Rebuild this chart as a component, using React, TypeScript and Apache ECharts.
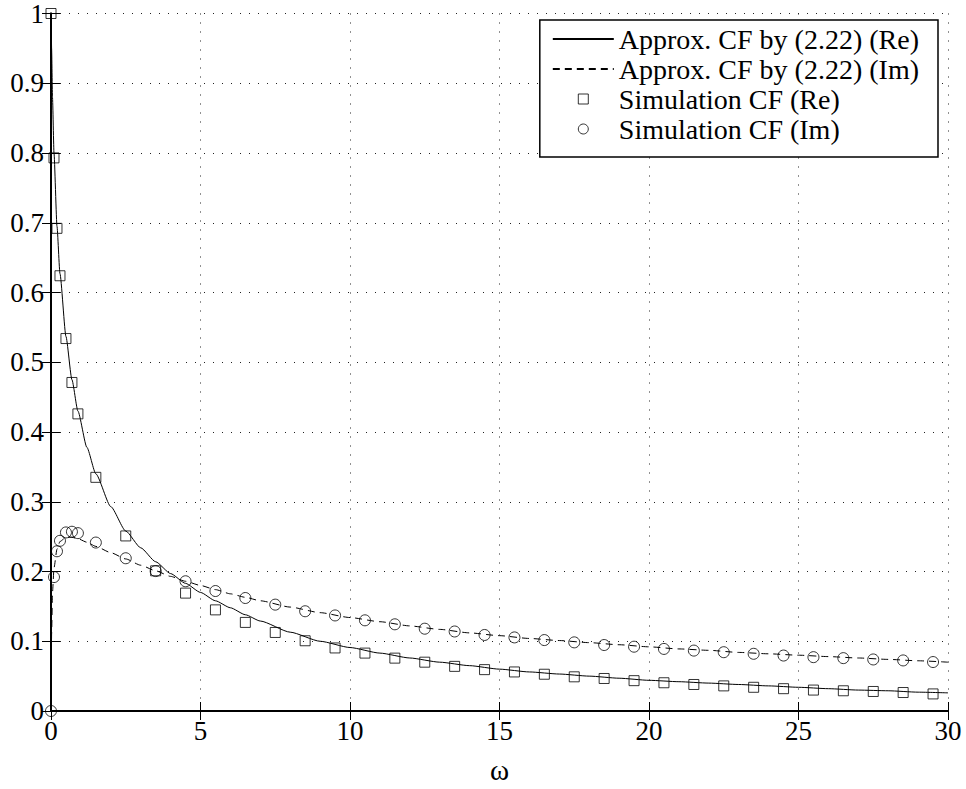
import React, { useEffect, useRef } from "react";
import * as echarts from "echarts";

// Simulation points (omega, Re, Im)
const simX = [0, 0.1, 0.2, 0.3, 0.5, 0.7, 0.9, 1.5, 2.5, 3.5, 4.5, 5.5, 6.5, 7.5, 8.5, 9.5, 10.5, 11.5, 12.5, 13.5, 14.5, 15.5, 16.5, 17.5, 18.5, 19.5, 20.5, 21.5, 22.5, 23.5, 24.5, 25.5, 26.5, 27.5, 28.5, 29.5];
const simRe = [1.0, 0.793, 0.692, 0.624, 0.534, 0.471, 0.426, 0.335, 0.251, 0.201, 0.169, 0.145, 0.127, 0.1126, 0.1007, 0.0904, 0.083, 0.0758, 0.07, 0.064, 0.0593, 0.056, 0.0527, 0.049, 0.0466, 0.0435, 0.0405, 0.038, 0.036, 0.034, 0.032, 0.03, 0.029, 0.028, 0.0265, 0.0245];
const simIm = [0, 0.192, 0.229, 0.244, 0.256, 0.257, 0.255, 0.2415, 0.219, 0.2006, 0.186, 0.172, 0.162, 0.1525, 0.143, 0.137, 0.13, 0.1243, 0.118, 0.114, 0.109, 0.1055, 0.1017, 0.0984, 0.0946, 0.0922, 0.089, 0.0866, 0.0843, 0.082, 0.0795, 0.0772, 0.0758, 0.0739, 0.0725, 0.0702];

// Approximation curves
const apxX = [0, 0.01, 0.02, 0.05, 0.1, 0.2, 0.3, 0.5, 0.7, 0.9, 1.2, 1.5, 2, 2.5, 3, 3.5, 4, 4.5, 5, 5.5, 6, 6.5, 7, 8, 9, 10, 11, 12, 13, 14, 15, 16, 17, 18, 19, 20, 21, 22, 23, 24, 25, 26, 27, 28, 29, 30];
const apxRe = [1.0, 0.975, 0.95, 0.88, 0.8, 0.695, 0.627, 0.537, 0.475, 0.43, 0.378, 0.34, 0.293, 0.258, 0.234, 0.214, 0.197, 0.183, 0.17, 0.158, 0.148, 0.138, 0.129, 0.113, 0.1, 0.091, 0.083, 0.076, 0.07, 0.065, 0.06, 0.056, 0.053, 0.05, 0.047, 0.044, 0.042, 0.04, 0.038, 0.036, 0.034, 0.032, 0.03, 0.029, 0.027, 0.026];
const apxIm = [0, 0.06, 0.11, 0.17, 0.205, 0.232, 0.243, 0.249, 0.249, 0.247, 0.242, 0.236, 0.227, 0.218, 0.209, 0.201, 0.193, 0.186, 0.18, 0.174, 0.168, 0.163, 0.158, 0.149, 0.141, 0.134, 0.128, 0.122, 0.117, 0.112, 0.108, 0.104, 0.101, 0.098, 0.095, 0.092, 0.089, 0.087, 0.084, 0.082, 0.08, 0.078, 0.076, 0.074, 0.072, 0.07];

const seriesNames = [
  "Approx. CF by (2.22) (Re)",
  "Approx. CF by (2.22) (Im)",
  "Simulation CF (Re)",
  "Simulation CF (Im)",
];

const FONT = "Liberation Serif";

export default function App() {
  const ref = useRef<HTMLDivElement>(null);
  useEffect(() => {
    if (!ref.current) return;
    const chart = echarts.init(ref.current, undefined, { renderer: "svg" });
    const zip = (xs: number[], ys: number[]) => xs.map((x, i) => [x, ys[i]]);
    const axisLine = { show: true, lineStyle: { color: "#000", width: 2 } };
    const tick = { show: true, inside: true, length: 9, lineStyle: { color: "#000", width: 1 } };
    const grid = { show: true, lineStyle: { color: "#222", width: 1, type: [1, 8] as any } };
    const hollow = { color: "rgba(0,0,0,0)", borderColor: "#000", borderWidth: 1 };
    const noSym = { color: "rgba(0,0,0,0)", borderColor: "rgba(0,0,0,0)", borderWidth: 0 };
    chart.setOption({
      animation: false,
      backgroundColor: "#fff",
      textStyle: { fontFamily: FONT },
      grid: { left: 51, right: 18, top: 10, bottom: 71 },
      xAxis: [
        {
          type: "value", min: 0, max: 30, interval: 5, position: "bottom",
          axisLine, axisTick: tick, splitLine: grid,
          axisLabel: { fontFamily: FONT, fontSize: 27, color: "#000", margin: 6 },
          name: "ω", nameLocation: "middle", nameGap: 44,
          nameTextStyle: { fontFamily: FONT, fontSize: 29, color: "#000" },
        },
        {
          type: "value", min: 0, max: 30, interval: 5, position: "top",
          axisLine, axisTick: tick, splitLine: { show: false }, axisLabel: { show: false },
        },
      ],
      yAxis: [
        {
          type: "value", min: 0, max: 1, interval: 0.1, position: "left",
          axisLine, axisTick: tick, splitLine: grid,
          axisLabel: {
            fontFamily: FONT, fontSize: 27, color: "#000", margin: 7,
            formatter: (v: number) => String(Math.round(v * 10) / 10),
          },
        },
        {
          type: "value", min: 0, max: 1, interval: 0.1, position: "right",
          axisLine, axisTick: tick, splitLine: { show: false }, axisLabel: { show: false },
        },
      ],
      legend: {
        orient: "vertical", right: 28, top: 20,
        backgroundColor: "#fff", borderColor: "#000", borderWidth: 1.5, borderRadius: 0,
        padding: [5, 19, 14, 12],
        itemWidth: 61, itemHeight: 10, itemGap: 2,
        symbolKeepAspect: true,
        textStyle: { fontFamily: FONT, fontSize: 28, color: "#000", lineHeight: 27 },
        data: [
          { name: seriesNames[0], itemStyle: noSym },
          { name: seriesNames[1], itemStyle: noSym },
          { name: seriesNames[2], icon: "path://M0,0L10,0L10,10L0,10Z", itemStyle: hollow },
          { name: seriesNames[3], icon: "circle", itemStyle: hollow },
        ],
      },
      series: [
        {
          name: seriesNames[0], type: "line", data: zip(apxX, apxRe), symbol: "none",
          smooth: 0.2, smoothMonotone: "x",
          lineStyle: { color: "#000", width: 1 }, itemStyle: { color: "#000" },
        },
        {
          name: seriesNames[1], type: "line", data: zip(apxX, apxIm), symbol: "none",
          smooth: 0.2, smoothMonotone: "x",
          lineStyle: { color: "#000", width: 1, type: [7, 5] }, itemStyle: { color: "#000" },
        },
        {
          name: seriesNames[2], type: "scatter", data: zip(simX, simRe), symbol: "rect", symbolSize: 10,
          clip: false,
          itemStyle: hollow,
        },
        {
          name: seriesNames[3], type: "scatter", data: zip(simX, simIm), symbol: "circle", symbolSize: 11,
          clip: false,
          itemStyle: hollow,
        },
      ],
    });
    return () => chart.dispose();
  }, []);
  return <div ref={ref} style={{ position: "fixed", left: 0, top: 0, width: 966, height: 789 }} />;
}
